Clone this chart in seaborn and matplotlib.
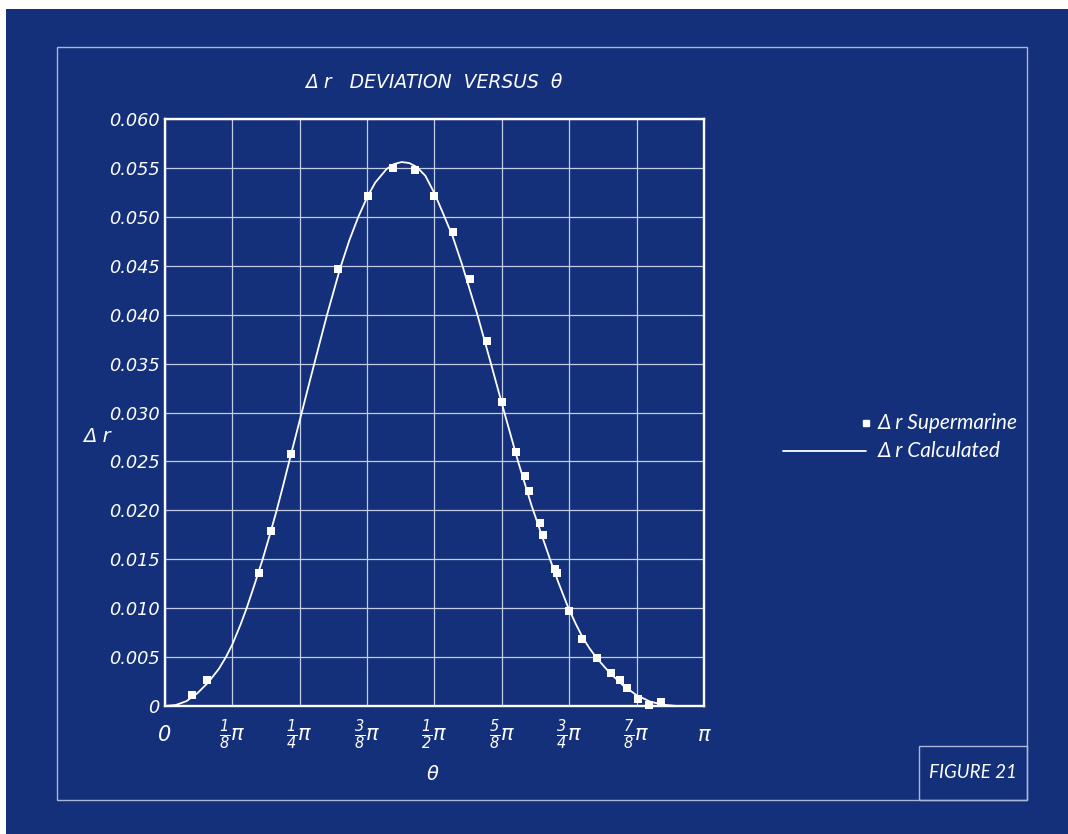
import numpy as np
import pandas as pd
import seaborn as sns
import matplotlib
matplotlib.use("Agg")
import matplotlib.pyplot as plt
from matplotlib.lines import Line2D
from matplotlib.patches import Rectangle

# ---------------- data (theta in units of pi) ----------------
supermarine_theta = [0.0507, 0.0779, 0.175, 0.1967, 0.2332, 0.3204, 0.3772, 0.4236,
                     0.4638, 0.4991, 0.5337, 0.5659, 0.5968, 0.6258, 0.6512, 0.6685,
                     0.6759, 0.6957, 0.7007, 0.7242, 0.7267, 0.7501, 0.7743, 0.8021,
                     0.828, 0.8448, 0.8566, 0.877, 0.8985, 0.9197]
supermarine_dr = [0.00116, 0.00263, 0.01363, 0.01786, 0.02576, 0.0447, 0.05213, 0.05499,
                  0.05479, 0.05213, 0.04845, 0.04361, 0.03727, 0.03104, 0.02593, 0.02351,
                  0.02201, 0.01871, 0.01745, 0.01404, 0.01356, 0.00971, 0.00681, 0.00487,
                  0.00337, 0.00266, 0.00184, 0.00075, 0.0001, 0.00041]

calc_theta = [0.0, 0.02, 0.04, 0.06, 0.08, 0.10, 0.113, 0.125, 0.14, 0.1515, 0.166,
              0.1812, 0.195, 0.2072, 0.219, 0.230, 0.25, 0.27, 0.2888, 0.3012, 0.3247,
              0.342, 0.3587, 0.375, 0.39, 0.4113, 0.425, 0.439, 0.453, 0.467, 0.483,
              0.5, 0.5163, 0.5337, 0.5513, 0.5790, 0.6042, 0.6296, 0.655, 0.680,
              0.7143, 0.73, 0.7471, 0.762, 0.775, 0.7875, 0.8009, 0.825, 0.85, 0.875,
              0.90, 0.925, 0.95]
calc_dr = [0.0, 0.0001, 0.0005, 0.0013, 0.0024, 0.0038, 0.0050, 0.0063, 0.0083, 0.0100,
           0.0124, 0.0150, 0.0176, 0.0200, 0.0225, 0.0249, 0.0292, 0.0335, 0.0375, 0.0401,
           0.0447, 0.0476, 0.0500, 0.0520, 0.0535, 0.0549, 0.0554, 0.0556, 0.0555, 0.0551,
           0.0542, 0.0524, 0.0503, 0.0480, 0.0451, 0.0401, 0.0351, 0.0300, 0.0250, 0.0205,
           0.0150, 0.0126, 0.0102, 0.0084, 0.0070, 0.0059, 0.0049, 0.0034, 0.0021, 0.0011,
           0.00045, 0.00012, 0.0]

x_ticks = [0, 0.125, 0.25, 0.375, 0.5, 0.625, 0.75, 0.875, 1.0]
x_ticklabels = ["0", r"$\frac{1}{8}\pi$", r"$\frac{1}{4}\pi$", r"$\frac{3}{8}\pi$",
                r"$\frac{1}{2}\pi$", r"$\frac{5}{8}\pi$", r"$\frac{3}{4}\pi$",
                r"$\frac{7}{8}\pi$", r"$\pi$"]
y_ticks = [0, 0.005, 0.010, 0.015, 0.020, 0.025, 0.030, 0.035, 0.040, 0.045, 0.050, 0.055, 0.060]
y_ticklabels = ["0"] + ["%.3f" % v for v in y_ticks[1:]]

title_text = "Δ r   DEVIATION  VERSUS  θ"
xlabel_text = "θ"
ylabel_text = "Δ r"
legend_labels = ["Δ r Supermarine", "Δ r Calculated"]
figure_tag = "FIGURE 21"

pts_df = pd.DataFrame({"theta": supermarine_theta, "dr": supermarine_dr})
calc_df = pd.DataFrame({"theta": calc_theta, "dr": calc_dr})

# ---------------- style ----------------
W, H = 1068, 834
BG = "#14307a"
FRAME = "#a8b6d8"
GRID = "#c3cce6"

sns.set_style("white")
TECH = ["DejaVu Sans"]
HUMAN = ["Lato", "DejaVu Sans"]
plt.rcParams["font.family"] = TECH
plt.rcParams["mathtext.fontset"] = "custom"
plt.rcParams["mathtext.rm"] = "DejaVu Sans:italic"
plt.rcParams["mathtext.it"] = "DejaVu Sans:italic"
plt.rcParams["mathtext.sf"] = "DejaVu Sans:italic"

fig = plt.figure(figsize=(W / 100, H / 100), dpi=100, facecolor="white")
fig.patches.append(Rectangle((6 / W, 0), 1 - 6 / W, 1 - 9 / H, transform=fig.transFigure,
                             facecolor=BG, edgecolor="none", zorder=-10))

ax = fig.add_axes([165 / W, 1 - 706 / H, 539 / W, 587 / H])
ax.set_facecolor("none")

sns.lineplot(data=calc_df, x="theta", y="dr", color="white", lw=1.3, ax=ax,
             estimator=None, sort=True, zorder=4)
sns.scatterplot(data=pts_df, x="theta", y="dr", marker="s", s=32, color="white",
                edgecolor="none", linewidth=0, ax=ax, zorder=5, clip_on=False)

ax.set_xlim(0, 1)
ax.set_ylim(0, 0.06)
ax.set_xticks(x_ticks)
ax.set_xticklabels(x_ticklabels, fontsize=15, color="white", style="italic", va="center")
ax.set_yticks(y_ticks)
ax.set_yticklabels(y_ticklabels, fontsize=12.8, color="white", style="italic")
ax.tick_params(axis="x", length=0, pad=21)
ax.tick_params(axis="y", length=0, pad=4)
ax.set_xlabel("")
ax.set_ylabel("")
ax.grid(True, color=GRID, lw=0.9)
for s in ax.spines.values():
    s.set_visible(True)
    s.set_color("white")
    s.set_linewidth(1.7)

# texts
fig.text(434 / W, 1 - 82 / H, title_text, ha="center", va="center", color="white",
         fontsize=13.5, style="italic")
fig.text(433 / W, 1 - 775 / H, xlabel_text, ha="center", va="center", color="white",
         fontsize=14, style="italic")
fig.text(97 / W, 1 - 437 / H, ylabel_text, ha="center", va="center", color="white",
         fontsize=14, style="italic")

# frames
fig.add_artist(Rectangle((57 / W, 1 - 800 / H), (1027 - 57) / W, (800 - 47) / H,
                         transform=fig.transFigure, fill=False, edgecolor=FRAME, lw=1.0))
fig.add_artist(Rectangle((919 / W, 1 - 800 / H), 108 / W, 54 / H,
                         transform=fig.transFigure, fill=False, edgecolor=FRAME, lw=1.0))
fig.text(973 / W, 1 - 773 / H, figure_tag, ha="center", va="center", color="white",
         fontsize=13.5, style="italic", family=HUMAN)

# legend (drawn manually to match layout)
fig.add_artist(Line2D([866 / W], [1 - 423 / H], marker="s", ms=4, color="white", lw=0,
                      transform=fig.transFigure))
fig.add_artist(Line2D([783 / W, 866 / W], [1 - 451 / H, 1 - 451 / H], color="white", lw=1.3,
                      transform=fig.transFigure))
fig.text(878 / W, 1 - 423 / H, legend_labels[0], ha="left", va="center", color="white",
         fontsize=15, style="italic", family=HUMAN)
fig.text(878 / W, 1 - 451 / H, legend_labels[1], ha="left", va="center", color="white",
         fontsize=15, style="italic", family=HUMAN)

fig.savefig("out.png", dpi=100, facecolor=fig.get_facecolor())
